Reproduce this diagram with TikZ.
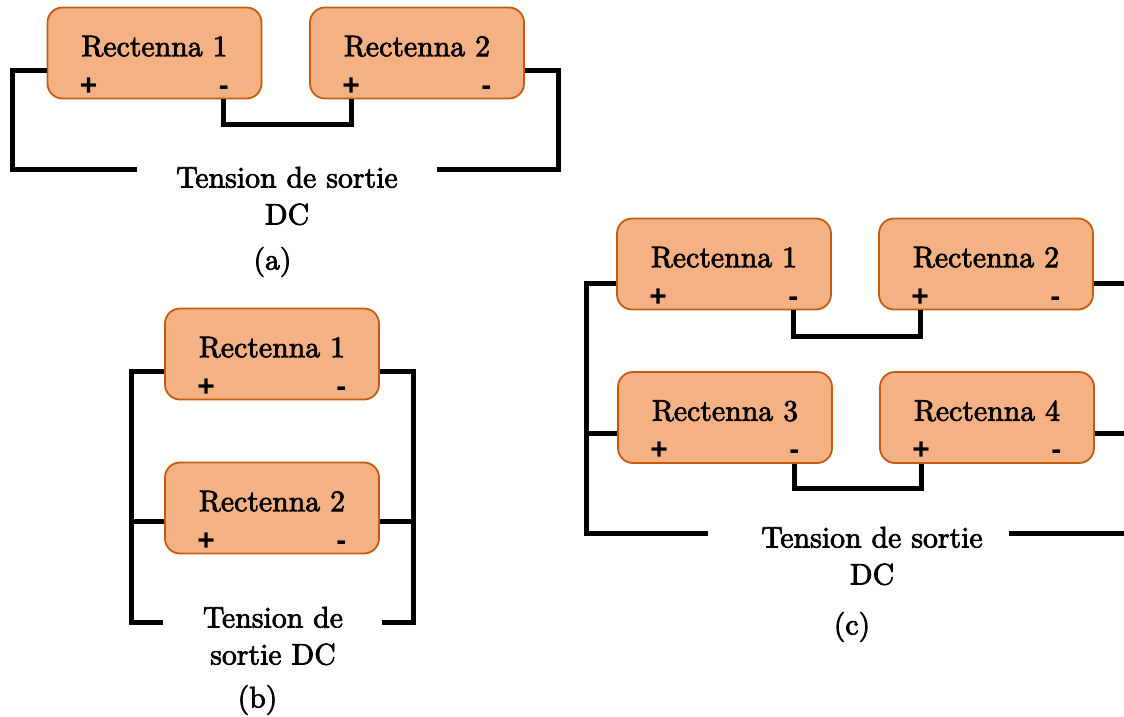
\documentclass[tikz,border=0pt]{standalone}
\usepackage{fontspec}
\newfontfamily\boxfont{lmroman10-regular}[Extension=.otf, FakeBold=2.5]
\newfontfamily\signfont{Liberation Sans}

\definecolor{boxfill}{HTML}{F4B183}
\definecolor{boxline}{HTML}{C55A11}

\begin{document}
\begin{tikzpicture}[x=1pt, y=-1pt,
    box/.style={draw=boxline, line width=1.8pt, fill=boxfill, rounded corners=15pt,
        minimum width=214pt, minimum height=91pt, inner sep=0pt, text depth=14pt,
        font=\boxfont\fontsize{29.8}{37}\selectfont},
    sign/.style={anchor=base, inner sep=0pt, font=\signfont\bfseries\fontsize{30}{36}\selectfont},
    wire/.style={line width=5pt},
    lbl/.style={align=center, inner sep=0pt, font=\boxfont\fontsize{29.8}{37}\selectfont}]

\useasboundingbox (0,0) rectangle (1124,716);

% (a) Two rectennas in series
\node[box] (ra1) at (154.5,53) {Rectenna 1};
\node[box] (ra2) at (417,53) {Rectenna 2};
\node[sign] (ra1p) at ([xshift=42pt,yshift=4pt]ra1.south west) {+};
\node[sign] (ra1m) at ([xshift=-38.5pt,yshift=4pt]ra1.south east) {-};
\node[sign] (ra2p) at ([xshift=42pt,yshift=4pt]ra2.south west) {+};
\node[sign] (ra2m) at ([xshift=-38.5pt,yshift=4pt]ra2.south east) {-};

\coordinate (outal) at (137,169);
\coordinate (outar) at (437,169);
\draw[wire] ([yshift=-17pt]ra1.west) -- ++(-34,0) |- (outal);
\draw[wire] ([yshift=-17pt]ra2.east) -- ++(34,0) |- (outar);
\draw[wire] (ra1m |- ra1.south) -- ++(0,25) -| (ra2p |- ra2.south);

\node[lbl] (outa) at (287,196) {Tension de sortie\\DC};
\node[lbl] (capa) at (272.5,262) {(a)};

% (b) Two rectennas in parallel
\node[box] (rb1) at (272,354) {Rectenna 1};
\node[box] (rb2) at (272,508) {Rectenna 2};
\node[sign] (rb1p) at ([xshift=42pt,yshift=4pt]rb1.south west) {+};
\node[sign] (rb1m) at ([xshift=-38.5pt,yshift=4pt]rb1.south east) {-};
\node[sign] (rb2p) at ([xshift=42pt,yshift=4pt]rb2.south west) {+};
\node[sign] (rb2m) at ([xshift=-38.5pt,yshift=4pt]rb2.south east) {-};

\coordinate (outbl) at (163,622);
\coordinate (outbr) at (382,622);
\draw[wire] ([yshift=-17pt]rb1.west) -- ++(-33,0) |- (outbl);
\draw[wire] ([yshift=-13pt]rb2.west) -- ++(-33,0);
\draw[wire] ([yshift=-17pt]rb1.east) -- ++(34,0) |- (outbr);
\draw[wire] ([yshift=-13pt]rb2.east) -- ++(34,0);

\node[lbl] (outb) at (273,636) {Tension de\\sortie DC};
\node[lbl] (capb) at (257.5,700) {(b)};

% (c) Two series pairs in parallel
\node[box] (rc1) at (724,264) {Rectenna 1};
\node[box] (rc2) at (986,264) {Rectenna 2};
\node[box] (rc3) at (725,417.5) {Rectenna 3};
\node[box] (rc4) at (987,417.5) {Rectenna 4};
\node[sign] (rc1p) at ([xshift=42pt,yshift=4pt]rc1.south west) {+};
\node[sign] (rc1m) at ([xshift=-38.5pt,yshift=4pt]rc1.south east) {-};
\node[sign] (rc2p) at ([xshift=42pt,yshift=4pt]rc2.south west) {+};
\node[sign] (rc2m) at ([xshift=-38.5pt,yshift=4pt]rc2.south east) {-};
\node[sign] (rc3p) at ([xshift=42pt,yshift=4pt]rc3.south west) {+};
\node[sign] (rc3m) at ([xshift=-38.5pt,yshift=4pt]rc3.south east) {-};
\node[sign] (rc4p) at ([xshift=42pt,yshift=4pt]rc4.south west) {+};
\node[sign] (rc4m) at ([xshift=-38.5pt,yshift=4pt]rc4.south east) {-};

\coordinate (outcl) at (708,533);
\coordinate (outcr) at (1009,533);
\draw[wire] ([yshift=-19pt]rc1.west) -- ++(-30,0) |- (outcl);
\draw[wire] ([yshift=-16pt]rc3.west) -- ++(-31,0);
\draw[wire] ([yshift=-19pt]rc2.east) -- ++(31,0);
\draw[wire] ([yshift=-16pt]rc4.east) -- ++(30,0);
\draw[wire] (outcr) -- ++(115,0);
\draw[wire] (rc1m |- rc1.south) -- ++(0,26) -| (rc2p |- rc2.south);
\draw[wire] (rc3m |- rc3.south) -- ++(0,25) -| (rc4p |- rc4.south);

\node[lbl] (outc) at (872,556) {Tension de sortie\\DC};
\node[lbl] (capc) at (852,627) {(c)};

\end{tikzpicture}
\end{document}
